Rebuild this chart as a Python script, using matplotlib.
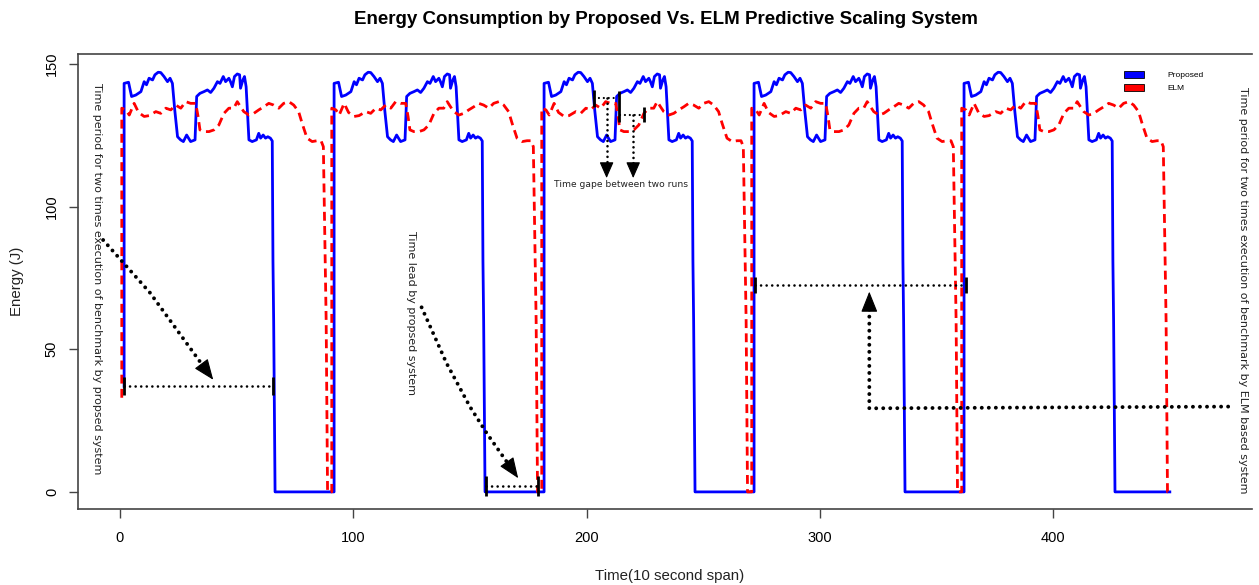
import matplotlib.pyplot as plt
from matplotlib.patches import Patch

# one run of each system (time offset, energy in J)
period = 90
n_runs = 5
end_time = 450

proposed_t = [0, 1.8, 1.8, 3.7, 5.0, 6.8, 9.0, 10.4, 11.4, 12.5, 14.0, 15.0, 16.4, 17.5, 18.9,
              20.4, 21.5, 22.5, 23.5, 24.7, 26.0, 27.2, 28.6, 30.3, 32.2, 32.9, 34.3, 36.0, 37.5,
              38.9, 40.3, 41.8, 42.9, 44.3, 45.3, 46.7, 47.4, 48.2, 49.1, 50.3, 51.3, 51.7, 52.7,
              53.4, 54.1, 55.3, 56.7, 58.5, 59.5, 60.3, 61.4, 62.4, 63.4, 64.5, 65.3, 65.6, 65.9,
              66.2, 66.5]
proposed_e = [0, 0, 143.2, 143.6, 138.6, 139.1, 140.3, 143.8, 142.7, 145.0, 144.4, 146.2, 147.1,
              147.0, 145.6, 143.8, 145.0, 143.2, 133.9, 124.5, 123.4, 122.8, 125.1, 122.8, 123.4,
              138.6, 139.7, 140.3, 140.9, 140.0, 141.5, 143.8, 143.2, 145.6, 143.8, 145.0, 143.8,
              142.0, 145.6, 146.5, 146.2, 141.5, 144.4, 145.6, 142.0, 123.4, 122.8, 123.4, 125.7,
              124.0, 125.1, 124.0, 124.5, 124.0, 123.0, 81.0, 60.0, 30.0, 0]

elm_t = [0, 0.8, 0.8, 2.6, 4.0, 6.1, 8.0, 10.4, 12.5, 15.4, 17.5, 19.7, 21.8, 23.9, 26.1, 28.2,
         30.3, 32.5, 33.5, 34.3, 36.0, 38.2, 40.3, 42.4, 44.6, 46.7, 48.8, 50.3, 51.7, 53.1, 55.3,
         57.4, 59.5, 61.7, 63.8, 65.9, 68.1, 70.2, 72.4, 74.5, 76.6, 78.1, 80.2, 82.4, 84.5, 86.2,
         87.2, 88.4, 89.0]
elm_e = [0, 0, 134.5, 133.9, 132.1, 136.2, 133.0, 131.6, 131.9, 133.3, 132.7, 134.5, 133.9, 135.6,
         134.5, 136.8, 136.2, 136.2, 131.6, 126.9, 126.3, 126.3, 126.9, 128.6, 132.7, 134.5, 134.5,
         136.8, 135.0, 133.3, 132.1, 132.7, 133.9, 135.0, 136.2, 135.6, 134.5, 136.2, 136.8, 135.6,
         133.3, 129.2, 124.0, 122.8, 123.1, 123.1, 121.0, 60.0, 0]

# the very first sample of each series is not at zero
proposed_first = 37
elm_first = 33

x_ticks = [0, 100, 200, 300, 400]
y_ticks = [0, 50, 100, 150]


def build(ts, es, first):
    x, y = [], []
    for k in range(n_runs):
        x += [t + k * period for t in ts]
        y += list(es)
    x, y = x[1:], y[1:]
    y[0] = first
    x.append(end_time)
    y.append(0)
    return x, y


prop_x, prop_y = build(proposed_t, proposed_e, proposed_first)
elm_x, elm_y = build(elm_t, elm_e, elm_first)

rfont = ['Liberation Sans', 'DejaVu Sans']
axcol = '#444444'

fig = plt.figure(figsize=(12.59, 5.85), dpi=100)
ax = fig.add_axes([0.0617, 0.1299, 0.9327, 0.7778])

ax.plot(prop_x, prop_y, color='#0000ff', lw=2.0, zorder=3)
ax.plot(elm_x, elm_y, color='#ff0000', lw=2.0, dashes=(3.2, 1.9), zorder=4)

ax.set_xlim(-18.1, 485.2)
ax.set_ylim(-6.0, 153.5)
ax.set_xticks(x_ticks)
ax.set_yticks(y_ticks)
for lab in ax.get_xticklabels() + ax.get_yticklabels():
    lab.set_family(rfont)
    lab.set_fontsize(10.5)
ax.tick_params(axis='both', direction='out', length=6.5, width=1.0, color=axcol)
ax.tick_params(axis='x', pad=9)
ax.tick_params(axis='y', pad=7, labelrotation=90)
for lab in ax.get_yticklabels():
    lab.set_va('center')
for s in ['left', 'top', 'bottom']:
    ax.spines[s].set_color(axcol)
    ax.spines[s].set_linewidth(1.2)
ax.spines['right'].set_visible(False)

fig.text(666 / 1259, 1 - 19 / 585, 'Energy Consumption by Proposed Vs. ELM Predictive Scaling System',
         ha='center', va='center', fontsize=13.5, fontweight='bold', family=rfont)
fig.text(670 / 1259, 1 - 576 / 585, 'Time(10 second span)', ha='center', va='center',
         fontsize=10.8, family=rfont, color='#222222')
fig.text(17 / 1259, 1 - 281 / 585, 'Energy (J)', ha='center', va='center', rotation=90,
         fontsize=10.8, family=rfont, color='#222222')

# legend
handles = [Patch(facecolor='#0000ff', edgecolor='black', lw=0.6, label='Proposed'),
           Patch(facecolor='#ff0000', edgecolor='black', lw=0.6, label='ELM')]
ax.legend(handles=handles, loc='upper left', bbox_to_anchor=(0.891, 0.962), frameon=False,
          prop={'family': rfont, 'size': 6}, handlelength=2.4, handleheight=0.8,
          handletextpad=2.8, labelspacing=0.6, borderpad=0, borderaxespad=0)


# annotation helpers
def dots(xs, ys, lw=2.8, gap=1.8):
    ax.plot(xs, ys, color='black', lw=lw, ls=(0, (0.01, gap)), dash_capstyle='round', zorder=5)


def bar(x, y0, y1):
    ax.plot([x, x], [y0, y1], color='black', lw=2.0, solid_capstyle='butt', zorder=6)


def head(tip, back, hl=0.65, hw=0.26, ms=20):
    ax.annotate('', xy=tip, xytext=back,
                arrowprops=dict(arrowstyle='-|>,head_length=%g,head_width=%g' % (hl, hw),
                                color='black', lw=0.8, mutation_scale=ms,
                                shrinkA=0, shrinkB=0), zorder=7)


txt = dict(color='#222222', fontsize=8.0, family='DejaVu Sans', ha='center', va='center')

# first run period of the proposed system
ax.text(-10.0, 74.7, 'Time period for two times execution of benchmark by propsed system',
        rotation=270, **txt)
dots([-7.2, 12.9, 38.0], [88.3, 69.8, 41.5])
head((40.0, 39.3), (38.0, 41.5))
dots([1.6, 65.7], [37.2, 37.2], lw=1.9, gap=2.1)
bar(1.6, 34.0, 40.3)
bar(65.7, 34.0, 40.3)

# time lead
ax.text(124.6, 62.6, 'Time lead by propsed system', rotation=270, **txt)
dots([129.3, 140.0, 150.0, 157.2, 168.5], [64.7, 45.1, 29.9, 20.6, 7.4])
head((170.7, 4.8), (168.5, 7.4))
dots([157.0, 179.3], [2.2, 2.2], lw=1.9, gap=2.1)
bar(157.0, -1.6, 5.4)
bar(179.3, -1.6, 5.4)

# time gap between two runs
ax.text(214.6, 107.6, 'Time gape between two runs', **dict(txt, fontsize=6.6))
dots([203.2, 213.6], [138.0, 138.0], lw=1.6, gap=2.2)
dots([214.3, 224.7], [132.1, 132.1], lw=1.6, gap=2.2)
bar(203.2, 134.8, 140.9)
bar(213.9, 129.8, 140.7)
bar(224.7, 129.8, 134.9)
dots([208.6, 208.6], [138.0, 113.0], lw=1.9, gap=2.0)
dots([220.0, 220.0], [132.1, 113.0], lw=1.9, gap=2.0)
head((208.6, 110.0), (208.6, 112.0), hl=0.5, hw=0.22, ms=20)
head((220.0, 110.0), (220.0, 112.0), hl=0.5, hw=0.22, ms=20)

# second run period of the ELM system
ax.text(481.5, 70.8, 'Time period for two times execution of benchmark by ELM based system',
        rotation=270, **txt)
dots([272.2, 362.6], [72.6, 72.6], lw=1.9, gap=2.1)
bar(272.2, 69.6, 75.5)
bar(362.6, 69.6, 75.5)
dots([475.0, 321.2, 321.2], [29.9, 29.3, 66.0])
head((321.2, 70.2), (321.2, 66.0))

fig.savefig('out.png', dpi=100)
